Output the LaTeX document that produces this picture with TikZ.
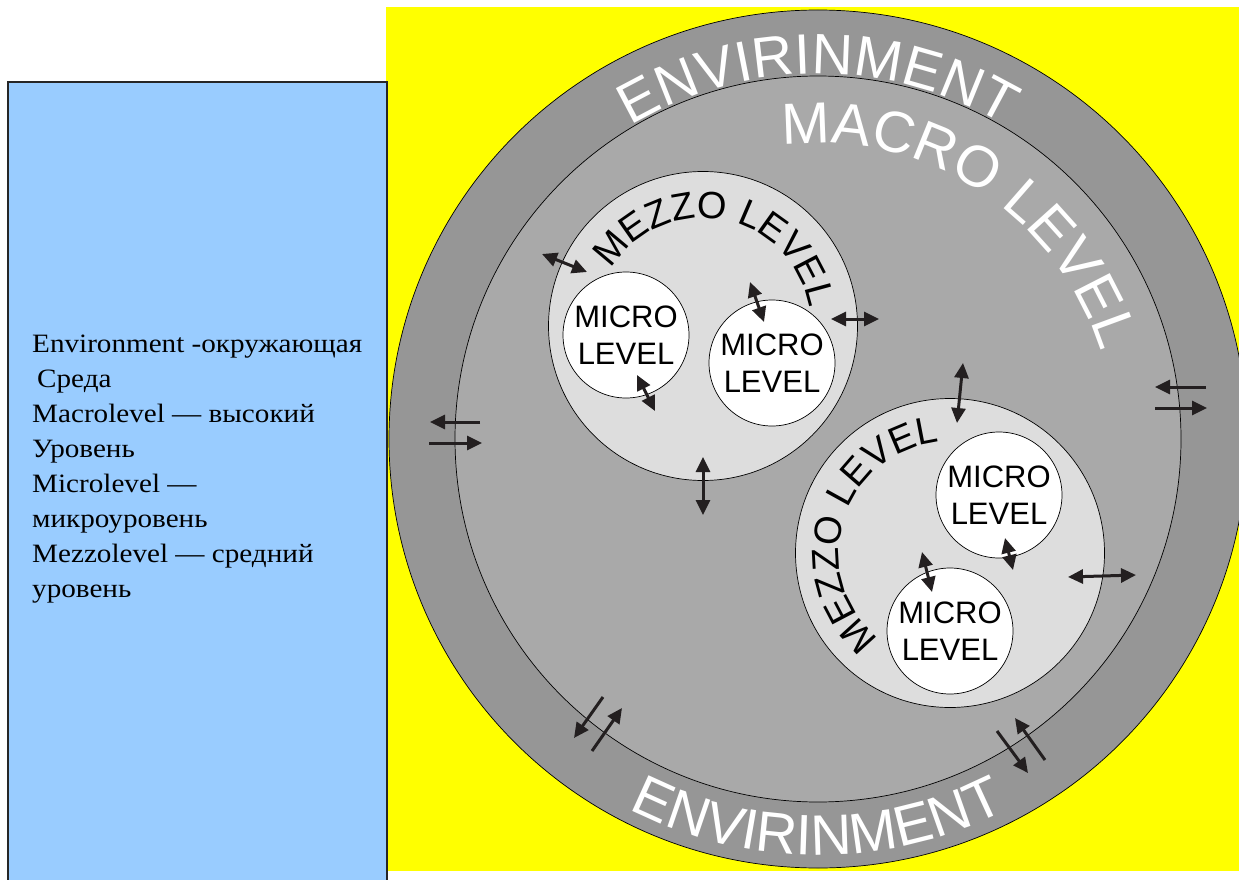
\documentclass[tikz,border=0pt]{standalone}
\usepackage{fontspec}
\setmainfont{Liberation Serif}
\newfontfamily\arial{Liberation Sans}
\newfontfamily\legendfont[FakeStretch=1.1]{Liberation Serif}
\usetikzlibrary{calc,arrows.meta,decorations.text}
\definecolor{yel}{HTML}{FFFF00}
\definecolor{legblue}{HTML}{99CCFF}
\definecolor{ringgray}{HTML}{969696}
\definecolor{macrogray}{HTML}{A9A9A9}
\definecolor{mezzogray}{HTML}{DDDDDD}
\definecolor{arrowblack}{HTML}{231F20}
\begin{document}
\begin{tikzpicture}[x=1pt,y=1pt,
  ring/.style={circle, inner sep=0pt, draw=black, line width=0.7pt},
  micro/.style={ring, fill=white, minimum size=126pt, align=center,
    font=\arial\fontsize{31}{37}\selectfont},
  mezzo/.style={ring, fill=mezzogray, minimum size=309pt},
  dbl/.style={draw=arrowblack, line width=3pt,
    {Triangle[length=15pt,width=14pt]}-{Triangle[length=15pt,width=14pt]}},
  sgl/.style={draw=arrowblack, line width=3pt, -{Triangle[length=15pt,width=14pt]}},
]
\useasboundingbox (0,0) rectangle (1239,-880);
\fill[white] (0,0) rectangle (1239,-880);
% backgrounds
\fill[yel] (386,-7) rectangle (1245,-871);
\draw[fill=legblue, draw=black!85, line width=1.2pt] (8,-82) rectangle (387,-890);
% legend
\node[anchor=north west, inner sep=0pt, align=left,
      font=\legendfont\fontsize{26.5}{35}\selectfont] (legend) at (32,-335)
  {Environment -окружающая\\\hspace{5pt}Среда\\Macrolevel — высокий\\Уровень\\Microlevel —\\микроуровень\\Mezzolevel — средний\\уровень};
% circles
\node[ring, fill=ringgray, minimum size=858pt] (outer) at (818,-439) {};
\node[ring, fill=macrogray, minimum size=726pt] (macro) at (818,-439) {};
\node[mezzo] (mz1) at (703,-326) {};
\node[mezzo] (mz2) at (950,-553) {};
\node[micro] (m1) at (626,-335) {MICRO\\LEVEL};
\node[micro] (m2) at (772,-363) {MICRO\\LEVEL};
\node[micro] (m3) at (999,-495) {MICRO\\LEVEL};
\node[micro] (m4) at (950,-631) {MICRO\\LEVEL};
% curved labels
\path[decorate, decoration={text along path, text align=center, text color=white,
   text={|\arial\fontsize{57}{57}\selectfont|ENVIRINMENT}}]
  ($(outer.center)+(150:365)$) arc[start angle=150, end angle=30, radius=365];
\path[decorate, decoration={text along path, text align=center, text color=white,
   text={|\arial\fontsize{57}{57}\selectfont|ENVIRINMENT}}]
  ($(outer.center)+(-150:416)$) arc[start angle=-150, end angle=-30, radius=416];
\path[decorate, decoration={text along path, text align=center, text color=white,
   text={|\arial\fontsize{58}{58}\selectfont|MACRO LEVEL}}]
  ($(macro.center)+(130:296)$) arc[start angle=130, end angle=-16, radius=296];
\path[decorate, decoration={text along path, text align=center, text color=black,
   text={|\arial\fontsize{38}{38}\selectfont|MEZZO LEVEL}}]
  ($(mz1.center)+(169:108)$) arc[start angle=169, end angle=-11, radius=108];
\path[decorate, decoration={text along path, text align=center, text color=black,
   text={|\arial\fontsize{38}{38}\selectfont|MEZZO LEVEL}}]
  ($(mz2.center)+(263:111)$) arc[start angle=263, end angle=63, radius=111];
% arrow end points
\coordinate (a1s) at (542,-254); \coordinate (a1e) at (587,-272);
\coordinate (a2s) at (750,-282); \coordinate (a2e) at (764,-322);
\coordinate (a3s) at (637,-375); \coordinate (a3e) at (655,-411);
\coordinate (a4s) at (831,-319); \coordinate (a4e) at (879,-319);
\coordinate (a5s) at (703,-457); \coordinate (a5e) at (703,-515);
\coordinate (a6s) at (963,-363); \coordinate (a6e) at (957,-423);
\coordinate (a7s) at (1206,-387); \coordinate (a7e) at (1155,-387);
\coordinate (a8s) at (1155,-408); \coordinate (a8e) at (1207,-408);
\coordinate (a9s) at (480,-422); \coordinate (a9e) at (430,-422);
\coordinate (a10s) at (429,-443); \coordinate (a10e) at (482,-443);
\coordinate (a11s) at (603,-697); \coordinate (a11e) at (574,-738);
\coordinate (a12s) at (592,-751); \coordinate (a12e) at (622,-708);
\coordinate (a13s) at (997,-731); \coordinate (a13e) at (1028,-773);
\coordinate (a14s) at (1045,-760); \coordinate (a14e) at (1015,-718);
\coordinate (a15s) at (1068,-577); \coordinate (a15e) at (1136,-575);
\coordinate (a16s) at (1005,-538); \coordinate (a16e) at (1013,-570);
\coordinate (a17s) at (922,-552); \coordinate (a17e) at (932,-592);
% arrows
\foreach \i in {1,2,3,4,5,6,15,16,17} {\draw[dbl] (a\i s) -- (a\i e);}
\foreach \i in {7,8,9,10,11,12,13,14} {\draw[sgl] (a\i s) -- (a\i e);}
\end{tikzpicture}
\end{document}
